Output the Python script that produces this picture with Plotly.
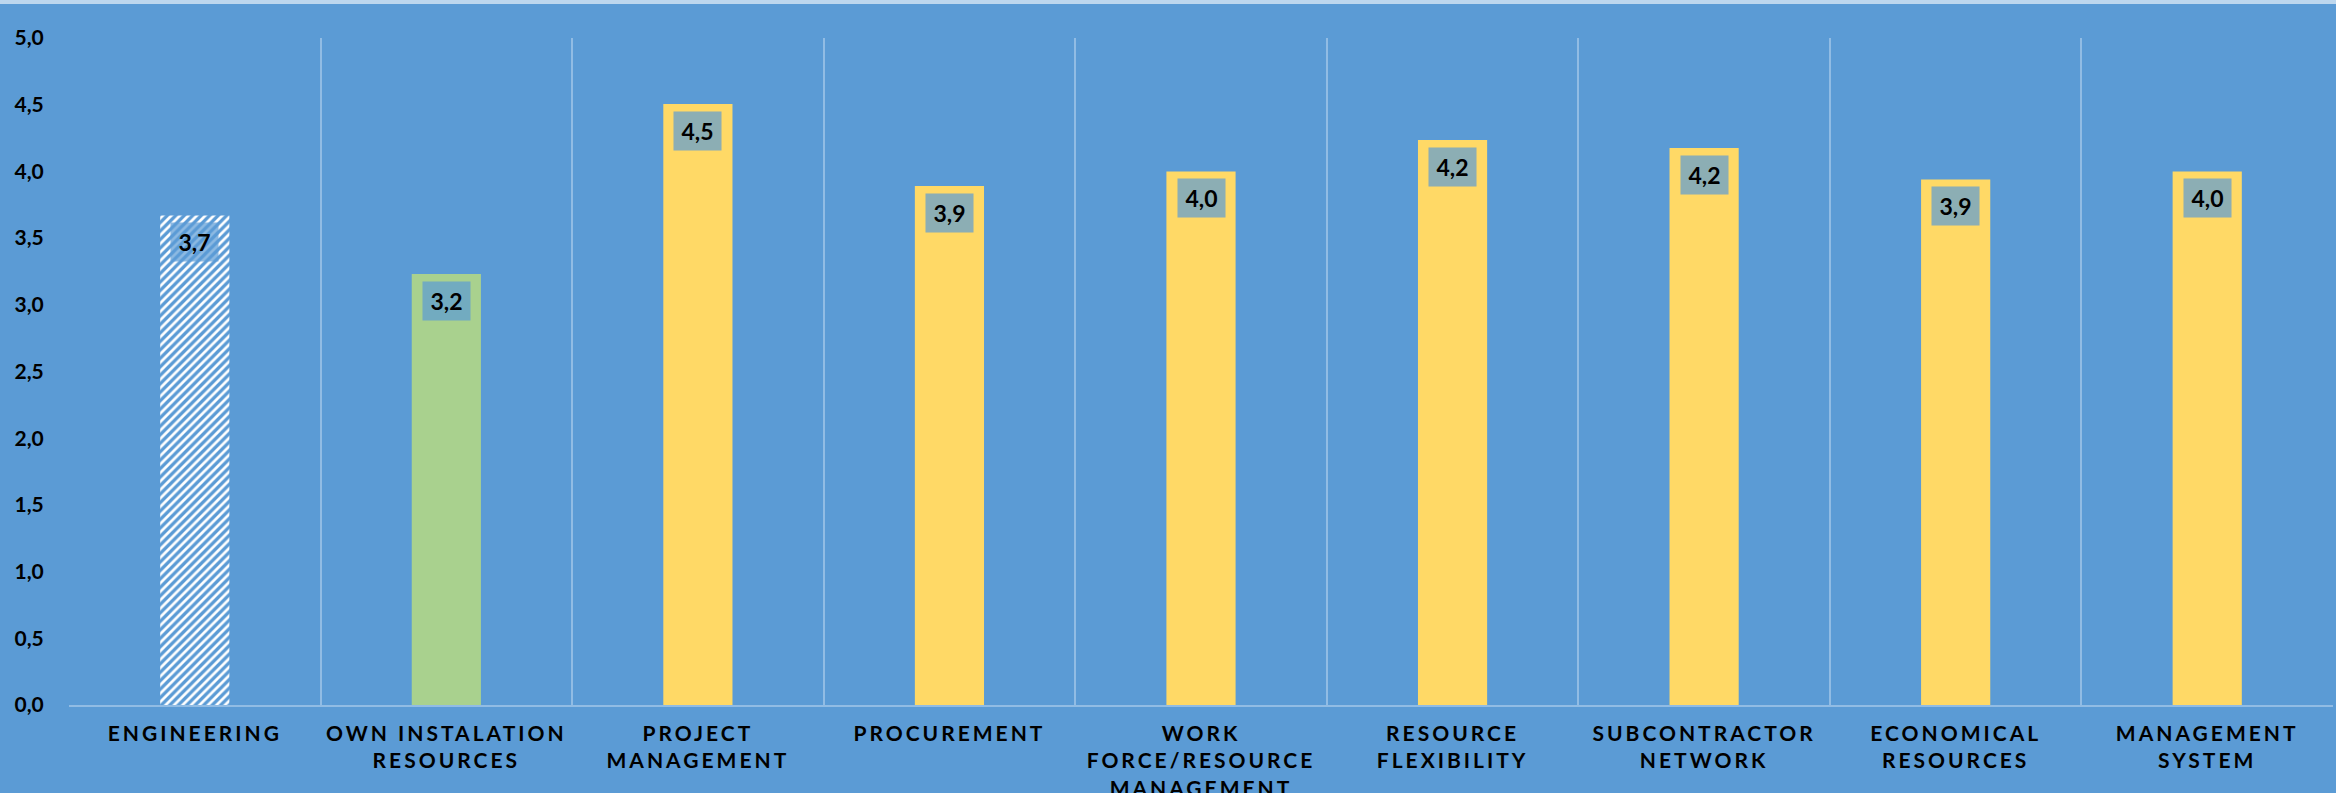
import plotly.graph_objects as go

# Average score per capability (scale 0-5)
categories = [
    "ENGINEERING",
    "OWN INSTALATION<br>RESOURCES",
    "PROJECT<br>MANAGEMENT",
    "PROCUREMENT",
    "WORK<br>FORCE/RESOURCE<br>MANAGEMENT",
    "RESOURCE<br>FLEXIBILITY",
    "SUBCONTRACTOR<br>NETWORK",
    "ECONOMICAL<br>RESOURCES",
    "MANAGEMENT<br>SYSTEM",
]
scores = [3.67, 3.23, 4.505, 3.89, 4.00, 4.235, 4.175, 3.94, 4.00]
bar_colors = ["#FFFFFF", "#A9D18E", "#FFD966", "#FFD966", "#FFD966",
              "#FFD966", "#FFD966", "#FFD966", "#FFD966"]
bar_patterns = ["/", "", "", "", "", "", "", "", ""]
y_ticks = [0, 0.5, 1.0, 1.5, 2.0, 2.5, 3.0, 3.5, 4.0, 4.5, 5.0]

BG = "#5B9BD5"
GRID = "rgba(190,215,240,0.55)"
FONT = "Lato"

fig = go.Figure(
    go.Bar(
        x=categories,
        y=scores,
        marker=dict(
            color=bar_colors,
            line=dict(width=0),
            pattern=dict(
                shape=bar_patterns,
                fgcolor=BG,
                bgcolor="#FFFFFF",
                size=6,
                solidity=0.45,
                fillmode="replace",
            ),
        ),
        hoverinfo="skip",
    )
)

# value boxes just below each bar top
for cat, val in zip(categories, scores):
    fig.add_annotation(
        x=cat,
        y=val,
        xref="x",
        yref="y",
        text=f"{val:.1f}".replace(".", ","),
        showarrow=False,
        yanchor="top",
        yshift=-7,
        width=47,
        height=38,
        borderpad=0,
        valign="middle",
        bgcolor="rgba(91,155,213,0.7)",
        font=dict(family=FONT, size=23, color="#000000", weight="bold"),
    )

# thin light band across the top edge
fig.add_shape(
    type="rect", xref="paper", yref="paper",
    x0=-0.05, x1=1.05, y0=1.0510, y1=1.0575,
    fillcolor="#BDD7EE", line=dict(width=0), layer="above",
)

fig.update_layout(
    width=2336,
    height=793,
    margin=dict(l=69, r=3, t=38, b=88, autoexpand=False),
    paper_bgcolor=BG,
    plot_bgcolor=BG,
    separators=",.",
    bargap=0.725,
    showlegend=False,
    font=dict(family=FONT, color="#000000"),
)

fig.update_xaxes(
    type="category",
    automargin=False,
    tickson="boundaries",
    showgrid=True,
    gridcolor=GRID,
    gridwidth=1.5,
    showline=True,
    linecolor=GRID,
    linewidth=1.5,
    mirror=False,
    ticks="outside",
    ticklen=21,
    tickcolor="rgba(0,0,0,0)",
    ticklabelstandoff=9,
    tickfont=dict(family=FONT, size=21, color="#000000", weight="bold"),
    fixedrange=True,
)

fig.update_yaxes(
    automargin=False,
    range=[0, 5],
    tickvals=y_ticks,
    tickformat=".1f",
    showgrid=False,
    zeroline=False,
    showline=False,
    ticks="outside",
    ticklen=20,
    tickcolor="rgba(0,0,0,0)",
    tickfont=dict(family=FONT, size=21, color="#000000", weight="bold"),
    fixedrange=True,
)

spacing_js = """
var st = document.createElement('style');
st.innerHTML = '.xtick text { letter-spacing: 3px; }';
document.head.appendChild(st);
"""

fig.write_html("out.html", post_script=spacing_js, config={"displayModeBar": False})
